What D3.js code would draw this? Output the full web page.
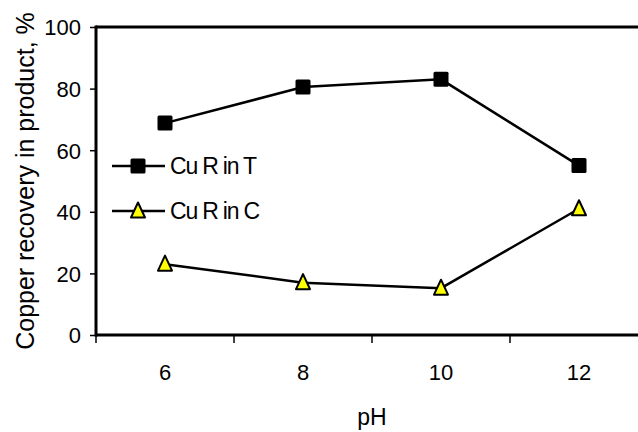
<!DOCTYPE html>
<html>
<head>
<meta charset="utf-8">
<script src="https://cdn.jsdelivr.net/npm/d3@7"></script>
<style>
  body { margin: 0; background: #fff; }
  text { font-family: "Liberation Sans", Arial, sans-serif; fill: #000; }
</style>
</head>
<body>
<div class="chart"></div>
<script>
// data
let phValues = ["6", "8", "10", "12"];
let recoveryT = [68.8, 80.5, 83, 55];
let recoveryC = [23, 17, 15.2, 41];
let yTicks = [0, 20, 40, 60, 80, 100];
let seriesNames = ["Cu R in T", "Cu R in C"];

let width = 638, height = 432;
let margin = { top: 27, right: 0, bottom: 97, left: 96 };

let svg = d3.select('.chart').append('svg')
    .attr('width', width)
    .attr('height', height);

// category scale: 4 bands, 138px each, last band cut off by the right edge
let bandW = 138;
let x = d3.scaleBand().domain(phValues).range([margin.left, margin.left + bandW * phValues.length]);
let y = d3.scaleLinear().domain([0, 100]).range([height - margin.bottom, margin.top]);

// top border line of plot area
svg.append('line')
    .attr('x1', margin.left).attr('x2', width)
    .attr('y1', y(100)).attr('y2', y(100))
    .attr('stroke', '#000').attr('stroke-width', 3);

// Y axis
let yAxis = d3.axisLeft(y).tickValues(yTicks).tickSize(6).tickPadding(9);
let gy = svg.append('g')
    .attr('transform', 'translate(' + margin.left + ',0)')
    .call(yAxis);
gy.select('.domain').attr('stroke-width', 3).attr('d', 'M0,' + (y(0) + 1.5) + 'V' + (y(100) - 1.5));
gy.selectAll('.tick line').attr('stroke-width', 1.5);
gy.selectAll('.tick text')
    .attr('font-size', 22)
    .attr('dy', '0.36em')
    .attr('font-family', '"Liberation Sans", Arial, sans-serif');

// X axis
let gx = svg.append('g')
    .attr('transform', 'translate(0,' + y(0) + ')');
gx.append('line')
    .attr('x1', margin.left).attr('x2', width)
    .attr('stroke', '#000').attr('stroke-width', 3);
gx.selectAll('.tk')
    .data(phValues)
    .enter().append('line')
    .attr('x1', d => x(d)).attr('x2', d => x(d))
    .attr('y1', 0).attr('y2', 8)
    .attr('stroke', '#000').attr('stroke-width', 1.5);
gx.selectAll('.lbl')
    .data(phValues)
    .enter().append('text')
    .attr('x', d => x(d) + x.bandwidth() / 2)
    .attr('y', 45)
    .attr('text-anchor', 'middle')
    .attr('font-size', 22)
    .text(d => d);

// axis titles
svg.append('text')
    .attr('text-anchor', 'middle')
    .attr('transform', 'translate(34,' + (y(50)) + ')rotate(-90)')
    .attr('font-size', 25)
    .text('Copper recovery in product, %');

svg.append('text')
    .attr('text-anchor', 'middle')
    .attr('x', x('10'))
    .attr('y', 425)
    .attr('font-size', 23)
    .text('pH');

let cx = d => x(d) + x.bandwidth() / 2;
let line = d3.line();
let triPath = 'M0,-8.5L7,6.5L-7,6.5Z';

// series T
svg.append('path')
    .attr('d', line(phValues.map((d, i) => [cx(d), y(recoveryT[i])])))
    .attr('fill', 'none').attr('stroke', '#000').attr('stroke-width', 2.5);
svg.selectAll('.sq')
    .data(recoveryT)
    .enter().append('rect')
    .attr('x', (d, i) => cx(phValues[i]) - 7.5)
    .attr('y', d => y(d) - 7.5)
    .attr('width', 15).attr('height', 15)
    .attr('rx', 1.5)
    .attr('fill', '#000');

// series C
svg.append('path')
    .attr('d', line(phValues.map((d, i) => [cx(d), y(recoveryC[i])])))
    .attr('fill', 'none').attr('stroke', '#000').attr('stroke-width', 2.5);
svg.selectAll('.tri')
    .data(recoveryC)
    .enter().append('path')
    .attr('d', triPath)
    .attr('transform', (d, i) => 'translate(' + cx(phValues[i]) + ',' + y(d) + ')')
    .attr('fill', '#ffff00').attr('stroke', '#000').attr('stroke-width', 2)
    .attr('stroke-linejoin', 'round');

// legend
let legY = [166, 211];
legY.forEach((ly, i) => {
    svg.append('line')
        .attr('x1', 112).attr('x2', 165)
        .attr('y1', ly).attr('y2', ly)
        .attr('stroke', '#000').attr('stroke-width', 2.5);
    if (i === 0) {
        svg.append('rect')
            .attr('x', 130.5).attr('y', ly - 7.5)
            .attr('width', 15).attr('height', 15).attr('rx', 1.5)
            .attr('fill', '#000');
    } else {
        svg.append('path')
            .attr('d', triPath)
            .attr('transform', 'translate(138,' + ly + ')')
            .attr('fill', '#ffff00').attr('stroke', '#000').attr('stroke-width', 2)
            .attr('stroke-linejoin', 'round');
    }
    svg.append('text')
        .attr('x', 170).attr('y', ly + 8)
        .attr('font-size', 23)
        .attr('letter-spacing', -1.2)
        .text(seriesNames[i]);
});
</script>
</body>
</html>
